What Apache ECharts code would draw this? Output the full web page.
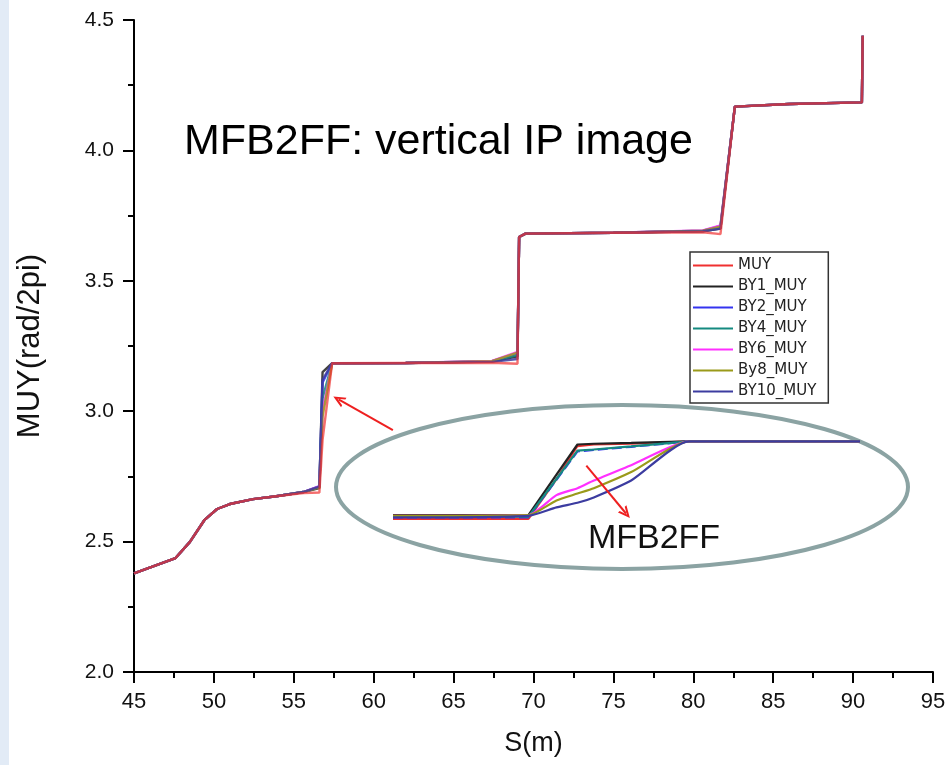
<!DOCTYPE html>
<html>
<head>
<meta charset="utf-8">
<script src="https://cdn.jsdelivr.net/npm/echarts@6/dist/echarts.min.js"></script>
<style>
    html, body { margin: 0; padding: 0; background: #fff; }
    #chart { width: 950px; height: 765px; }
</style>
</head>
<body>
<div id="chart"></div>
<script>
// positions along the line (m)
var sPos = [45, 47.6, 48.5, 49.4, 50.2, 51.0, 52.45, 53.9, 55.6, 56.6, 56.8, 57.4, 62, 67.4, 69.0, 69.1, 69.5, 75, 80.6, 81.7, 82.6, 86, 90.55, 90.6];

// phase advance MUY for each case (rad/2pi)
var muy    = [2.378, 2.437, 2.499, 2.582, 2.625, 2.644, 2.663, 2.674, 2.686, 2.688, 2.89, 3.184, 3.185, 3.186, 3.182, 3.668, 3.681, 3.684, 3.686, 3.679, 4.168, 4.178, 4.184, 4.44];
var by1Muy = [2.378, 2.437, 2.499, 2.582, 2.625, 2.644, 2.663, 2.674, 2.690, 2.705, 3.15, 3.184, 3.185, 3.190, 3.210, 3.668, 3.681, 3.684, 3.690, 3.700, 4.168, 4.178, 4.184, 4.44];
var by2Muy = [2.378, 2.437, 2.499, 2.582, 2.625, 2.644, 2.663, 2.674, 2.690, 2.713, 3.11, 3.184, 3.185, 3.192, 3.222, 3.668, 3.681, 3.684, 3.692, 3.710, 4.168, 4.178, 4.184, 4.44];
var by4Muy = [2.378, 2.437, 2.499, 2.582, 2.625, 2.644, 2.663, 2.674, 2.690, 2.710, 3.05, 3.184, 3.185, 3.191, 3.215, 3.668, 3.681, 3.684, 3.691, 3.705, 4.168, 4.178, 4.184, 4.44];
var by6Muy = [2.378, 2.437, 2.499, 2.582, 2.625, 2.644, 2.663, 2.674, 2.690, 2.712, 3.00, 3.184, 3.185, 3.193, 3.227, 3.668, 3.681, 3.684, 3.693, 3.712, 4.168, 4.178, 4.184, 4.44];
var by8Muy = [2.378, 2.437, 2.499, 2.582, 2.625, 2.644, 2.663, 2.674, 2.690, 2.708, 2.98, 3.184, 3.185, 3.192, 3.225, 3.668, 3.681, 3.684, 3.692, 3.708, 4.168, 4.178, 4.184, 4.44];
var by10Muy = [2.378, 2.437, 2.499, 2.582, 2.625, 2.644, 2.663, 2.674, 2.690, 2.711, 3.12, 3.184, 3.185, 3.189, 3.200, 3.668, 3.681, 3.684, 3.690, 3.700, 4.168, 4.178, 4.184, 4.44];

// zoomed view of the MFB2FF step (relative units)
var zoomX    = [0, 29, 35, 39.5, 43, 51, 63.4, 100];
var zoomMuy  = [-0.02, -0.02, 0.5, 0.93, 0.95, 0.96, 0.99, 0.99];
var zoomBy1  = [0.03, 0.03, 0.556, 0.95, 0.96, 0.97, 0.99, 0.99];
var zoomBy2  = [0.0, 0.0, 0.49, 0.86, 0.88, 0.92, 0.99, 0.99];
var zoomBy4  = [0.01, 0.01, 0.5, 0.87, 0.885, 0.925, 0.99, 0.99];
var zoomBy6  = [0.02, 0.03, 0.29, 0.38, 0.48, 0.68, 0.99, 0.99];
var zoomBy8  = [0.02, 0.03, 0.22, 0.31, 0.38, 0.59, 0.99, 0.99];
var zoomBy10 = [0.0, 0.02, 0.13, 0.19, 0.26, 0.48, 0.99, 0.99];

var names  = ['MUY', 'BY1_MUY', 'BY2_MUY', 'BY4_MUY', 'BY6_MUY', 'By8_MUY', 'BY10_MUY'];
var colors = ['#f03030', '#222222', '#3434f0', '#158a80', '#ff30ff', '#9a9a1a', '#3c3ca0'];

var arrowHead = 'path://M0,10 L5,0 L10,10 L8,10 L5,4 L2,10 Z';
var font = 'Liberation Sans, Arial, sans-serif';

var chart = echarts.init(document.getElementById('chart'));

function pairs(xs, ys) {
    return xs.map(function (x, i) { return [x, ys[i]]; });
}

var mainVals = [muy, by1Muy, by2Muy, by4Muy, by6Muy, by8Muy, by10Muy];
var zoomVals = [zoomMuy, zoomBy1, zoomBy2, zoomBy4, zoomBy6, zoomBy8, zoomBy10];

var series = [];
// main plot: BY lines first, MUY on top
var order = [1, 2, 3, 4, 5, 6, 0];
order.forEach(function (k) {
    series.push({
        name: names[k],
        type: 'line',
        xAxisIndex: 0,
        yAxisIndex: 0,
        symbol: 'none',
        data: pairs(sPos, mainVals[k]),
        lineStyle: { color: colors[k], width: 2.4, opacity: k === 0 ? 0.7 : 0.85 },
        itemStyle: { color: colors[k] },
        z: 3
    });
});
// zoomed view: MUY underneath
var zoomOrder = [0, 1, 2, 3, 4, 5, 6];
zoomOrder.forEach(function (k) {
    series.push({
        name: names[k] + '_zoom',
        type: 'line',
        xAxisIndex: 1,
        yAxisIndex: 1,
        symbol: 'none',
        smooth: k >= 4 ? 0.2 : false,
        data: pairs(zoomX, zoomVals[k]),
        lineStyle: { color: colors[k], width: 2.2, type: k === 2 ? [10, 4] : 'solid' },
        z: 4
    });
});

var arrowStyle = {
    silent: true,
    symbol: ['none', arrowHead],
    symbolSize: [11, 12],
    label: { show: false },
    lineStyle: { color: '#ee2020', width: 2, type: 'solid' }
};
series[6].markLine = Object.assign({ data: [[{ coord: [61.2, 2.927] }, { coord: [57.8, 3.045] }]] }, arrowStyle);
series[13].markLine = Object.assign({ data: [[{ coord: [41.4, 0.675] }, { coord: [49.9, 0.05] }]] }, arrowStyle);

var option = {
    animation: false,
    backgroundColor: '#ffffff',
    textStyle: { fontFamily: font },
    grid: [
        { left: 134, top: 20, right: 17, bottom: 93, outerBoundsMode: 'none' },
        { left: 393, top: 433, width: 467, height: 92, outerBoundsMode: 'none' }
    ],
    legend: {
        data: names,
        orient: 'vertical',
        left: 690,
        top: 252,
        icon: 'rect',
        itemWidth: 40,
        itemHeight: 2,
        itemGap: 6,
        padding: [6, 12, 4, 3],
        borderColor: '#333',
        borderWidth: 1.5,
        textStyle: { fontSize: 15, lineHeight: 15, color: '#222', fontFamily: 'DejaVu Sans, sans-serif' }
    },
    xAxis: [{
        type: 'value',
        gridIndex: 0,
        min: 45,
        max: 95,
        interval: 5,
        name: 'S(m)',
        nameLocation: 'middle',
        nameGap: 58,
        nameMoveOverlap: false,
        nameTextStyle: { fontSize: 27, color: '#111', fontFamily: font },
        axisLine: { onZero: false, lineStyle: { color: '#000', width: 2 } },
        axisTick: { length: 11, lineStyle: { color: '#000', width: 2 } },
        minorTick: { show: true, splitNumber: 2, length: 6, lineStyle: { color: '#000', width: 2 } },
        axisLabel: { fontSize: 22, color: '#111', margin: 19 },
        splitLine: { show: false }
    }, {
        type: 'value',
        gridIndex: 1,
        min: 0,
        max: 100,
        show: false
    }],
    yAxis: [{
        type: 'value',
        gridIndex: 0,
        min: 2,
        max: 4.5,
        interval: 0.5,
        name: 'MUY(rad/2pi)',
        nameLocation: 'middle',
        nameGap: 88,
        nameMoveOverlap: false,
        nameTextStyle: { fontSize: 31, color: '#111', fontFamily: font },
        axisLine: { onZero: false, lineStyle: { color: '#000', width: 2 } },
        axisTick: { length: 11, lineStyle: { color: '#000', width: 2 } },
        minorTick: { show: true, splitNumber: 2, length: 6, lineStyle: { color: '#000', width: 2 } },
        axisLabel: {
            fontSize: 21,
            color: '#111',
            margin: 20,
            formatter: function (v) { return v.toFixed(1); }
        },
        splitLine: { show: false }
    }, {
        type: 'value',
        gridIndex: 1,
        min: -0.1,
        max: 1.1,
        show: false
    }],
    graphic: [
        {
            type: 'rect',
            left: 0,
            top: 0,
            shape: { width: 9, height: 765 },
            style: { fill: '#e2ebf6' },
            silent: true
        },
        {
            type: 'ellipse',
            shape: { cx: 622, cy: 487, rx: 286, ry: 82 },
            style: { fill: 'none', stroke: '#8ba3a3', lineWidth: 4 },
            silent: true,
            z: 1
        },
        {
            type: 'text',
            x: 184,
            y: 142,
            style: {
                text: 'MFB2FF: vertical IP image',
                font: '43px ' + font,
                fill: '#000',
                textAlign: 'left',
                textVerticalAlign: 'middle'
            },
            silent: true
        },
        {
            type: 'text',
            x: 654,
            y: 539,
            style: {
                text: 'MFB2FF',
                font: '34px ' + font,
                fill: '#111',
                textAlign: 'center',
                textVerticalAlign: 'middle'
            },
            silent: true
        }
    ],
    series: series
};

chart.setOption(option);
</script>
</body>
</html>
